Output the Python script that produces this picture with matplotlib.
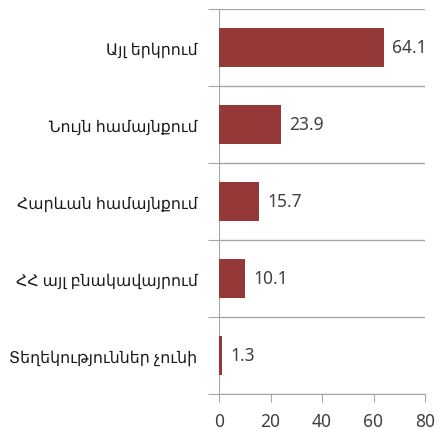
import matplotlib.pyplot as plt
import numpy as np

categories = ['Այլ երկրում', 'Նույն համայնքում', 'Հարևան համայնքում',
              'ՀՀ այլ բնակավայրում', 'Տեղեկություններ չունի']
values = [64.1, 23.9, 15.7, 10.1, 1.3]
xticks = [0, 20, 40, 60, 80]

BAR_COLOR = '#953838'
GRID_COLOR = '#a6a6a6'

plt.rcParams['font.family'] = ['Noto Sans', 'DejaVu Sans']

fig = plt.figure(figsize=(4.41, 4.31), dpi=100)
ax = fig.add_axes([219 / 441, 1 - 395 / 431, 206 / 441, 385 / 431])

y = np.arange(len(categories))
ax.barh(y, values, height=0.5, color=BAR_COLOR, zorder=3)
for yi, v in zip(y, values):
  ax.text(v + 3.2, yi, f'{v:.1f}', va='center', ha='left',
          fontsize=12.5, color='#404040')

ax.set_xlim(0, 80)
ax.set_ylim(len(categories) - 0.5, -0.5)
ax.set_xticks(xticks)
ax.set_xticklabels([str(t) for t in xticks], fontsize=12.5, color='#404040')

# category labels as minor ticks, boundaries as major ticks/gridlines
ax.set_yticks(np.arange(-0.5, len(categories)), minor=False)
ax.set_yticklabels([])
ax.set_yticks(y, minor=True)
ax.set_yticklabels(categories, minor=True, fontsize=11.3, color='#1a1a1a')
ax.tick_params(axis='y', which='minor', length=0, pad=15.5)
ax.tick_params(axis='y', which='major', length=8, color=GRID_COLOR)
ax.tick_params(axis='x', length=6, color=GRID_COLOR, pad=7)
ax.grid(axis='y', which='major', color=GRID_COLOR, linewidth=1, zorder=0)

for side in ['top', 'right']:
  ax.spines[side].set_visible(False)
ax.spines['left'].set_color(GRID_COLOR)
ax.spines['bottom'].set_color(GRID_COLOR)

fig.savefig('out.png', dpi=100)
